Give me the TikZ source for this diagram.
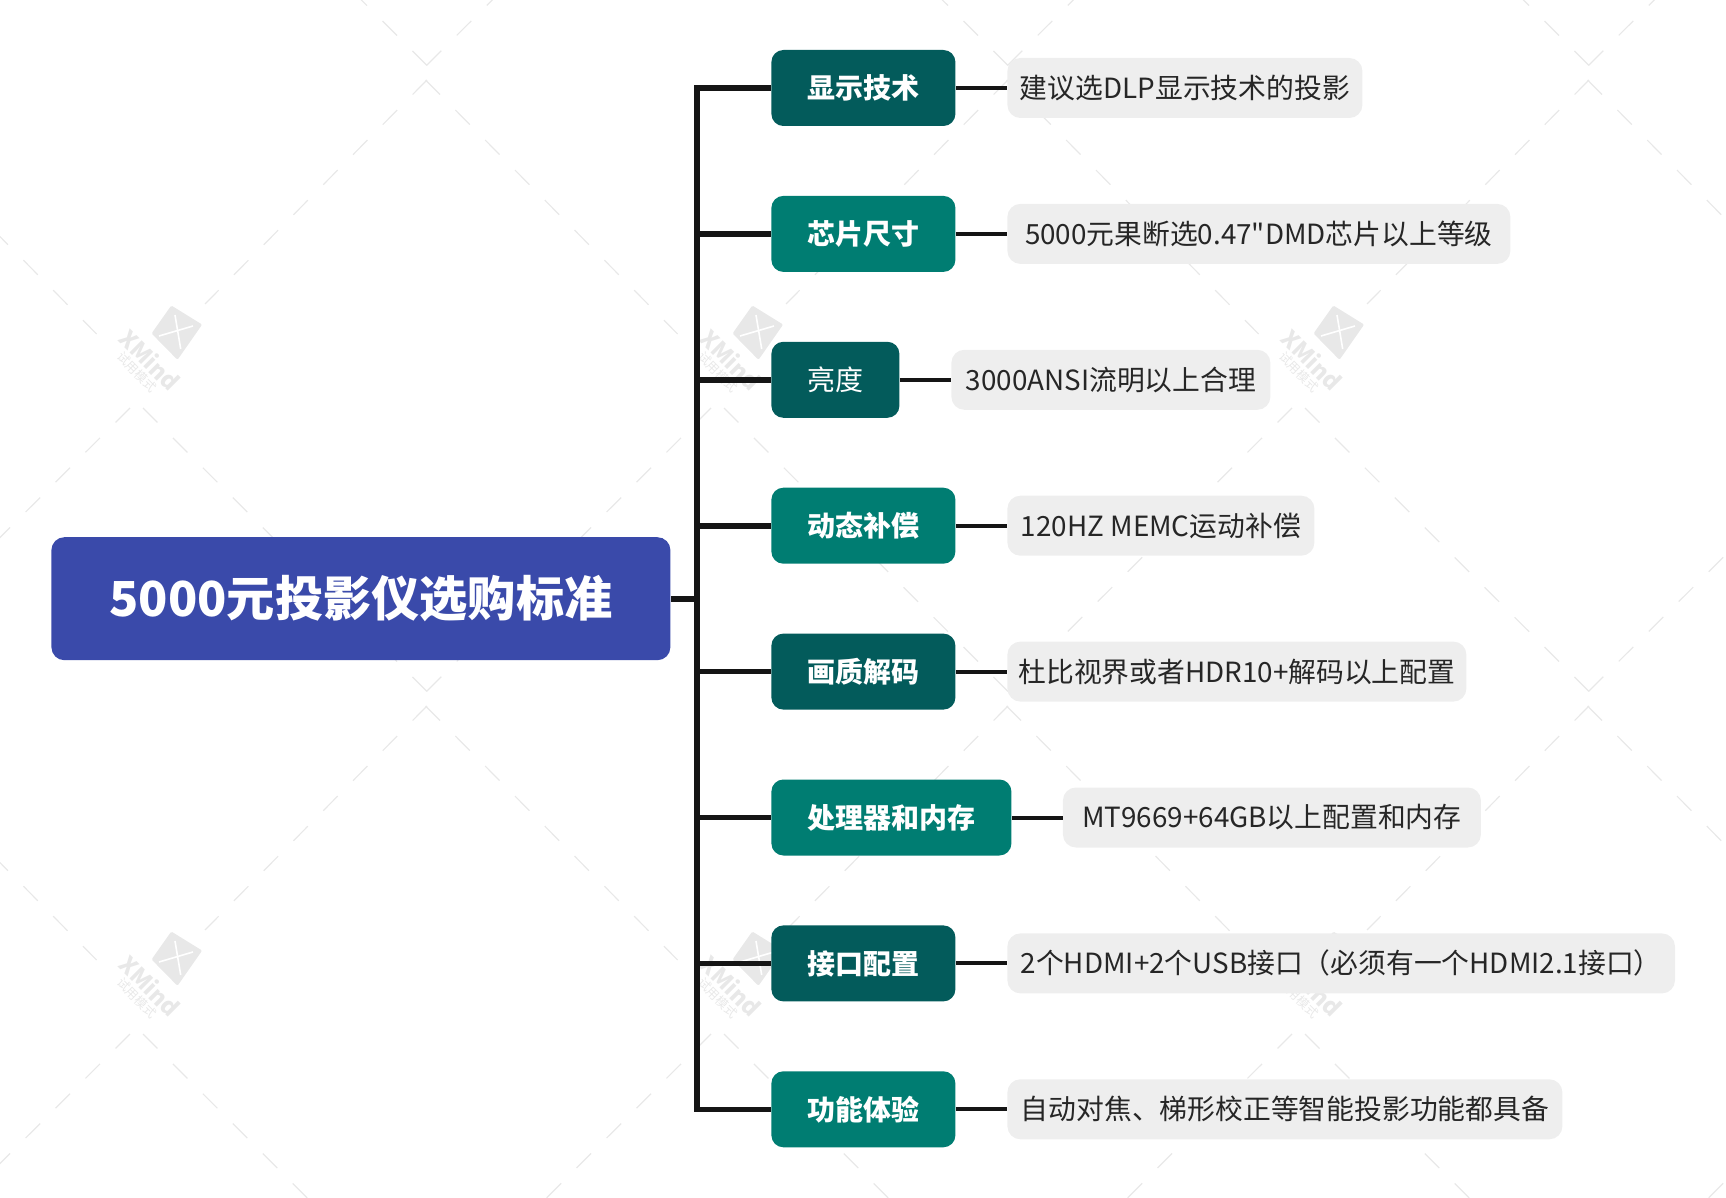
\documentclass[tikz,border=0pt]{standalone}
\usepackage{fontspec}
\setmainfont{Noto Sans CJK SC}
\newfontfamily\leaffont{Noto Sans CJK SC}
\usetikzlibrary{calc}

\definecolor{rootblue}{HTML}{3A4AAA}
\definecolor{tealdark}{HTML}{035B5B}
\definecolor{teallight}{HTML}{007D72}
\definecolor{leafgray}{HTML}{EEEEEE}
\definecolor{linedark}{HTML}{151515}
\definecolor{wmgray}{HTML}{E8E8E8}

\tikzset{
  rootbox/.style={fill=rootblue, text=white, rounded corners=6.5pt, inner sep=0pt, anchor=west, minimum height=61.5pt, font=\fontsize{24.1}{28}\selectfont\bfseries},
  topicbox/.style={text=white, rounded corners=6pt, inner sep=0pt, anchor=west, minimum height=38pt, font=\fontsize{14}{17}\selectfont\bfseries},
  leafbox/.style={fill=leafgray, text=black!85, rounded corners=6.5pt, inner sep=0pt, anchor=west, minimum height=30pt, font=\leaffont\fontsize{13.9}{16}\selectfont},
  trunk/.style={draw=linedark, line width=2.8pt},
  twig/.style={draw=linedark, line width=2pt},
  wmline/.style={draw=wmgray, line width=0.6pt, dash pattern=on 10.25pt off 10.9pt},
}

% dashed lines of the background mark
\newcommand{\wmtile}[2]{
\begin{scope}[shift={(#1,#2)}]
\draw[wmline] (427,80) -- (205,304);
\draw[wmline] (425.6,80) -- (677.6,334);
\draw[wmline] (711,408) -- (426,692);
\draw[wmline] (143,408) -- (427.5,692);
\end{scope}
}

% logo of the background mark
\newcommand{\wmlogo}[3]{
\begin{scope}[shift={(#1,#2)}]
\fill[wmgray, draw=wmgray, line width=1.5pt, line join=round] (171.7,307.5) -- (200,325) -- (177.3,357.5) -- (153.5,333.3) -- cycle;
\draw[white, line width=0.8pt] (175,315) -- (180.7,349);
\draw[white, line width=0.8pt] (159,336) -- (193,326);
\node[rotate=-45, text=wmgray, inner sep=0pt, font=\fontsize{11.6}{14}\selectfont\bfseries] (wa#3) at (150,360) {XMind};
\node[rotate=-45, text=wmgray, inner sep=0pt, font=\fontsize{6.2}{7}\selectfont] (wb#3) at (137,372) {试用模式};
\end{scope}
}

\begin{document}
\begin{tikzpicture}[x=0.5pt, y=-0.5pt]

\useasboundingbox (0,0) rectangle (1726,1198);

\wmtile{-581}{-626}
\wmtile{0}{-626}
\wmtile{581}{-626}
\wmtile{1162}{-626}
\wmtile{-581}{0}
\wmtile{0}{0}
\wmtile{581}{0}
\wmtile{1162}{0}
\wmtile{-581}{626}
\wmtile{0}{626}
\wmtile{581}{626}
\wmtile{1162}{626}

\wmlogo{0}{0}{1}
\wmlogo{581}{0}{2}
\wmlogo{1162}{0}{3}
\wmlogo{0}{626}{4}
\wmlogo{581}{626}{5}
\wmlogo{1162}{626}{6}

\node [rootbox, minimum width=309.5pt] (r) at (51,598.7) {5000元投影仪选购标准};

\node [topicbox, fill=tealdark, minimum width=92pt] (c1) at (771,88) {显示技术};
\node [topicbox, fill=teallight, minimum width=92pt] (c2) at (771,233.9) {芯片尺寸};
\node [topicbox, fill=tealdark, minimum width=64pt, font=\fontsize{14}{17}\selectfont] (c3) at (771,379.8) {亮度};
\node [topicbox, fill=teallight, minimum width=92pt] (c4) at (771,525.7) {动态补偿};
\node [topicbox, fill=tealdark, minimum width=92pt] (c5) at (771,671.6) {画质解码};
\node [topicbox, fill=teallight, minimum width=120pt] (c6) at (771,817.5) {处理器和内存};
\node [topicbox, fill=tealdark, minimum width=92pt] (c7) at (771,963.4) {接口配置};
\node [topicbox, fill=teallight, minimum width=92pt] (c8) at (771,1109.3) {功能体验};

\node [leafbox, minimum width=177.5pt] (l1) at (1007,88) {建议选DLP显示技术的投影};
\node [leafbox, minimum width=251.5pt] (l2) at (1007,233.9) {5000元果断选0.47"DMD芯片以上等级};
\node [leafbox, minimum width=159.5pt] (l3) at (951,379.8) {3000ANSI流明以上合理};
\node [leafbox, minimum width=153.5pt] (l4) at (1007,525.7) {120HZ MEMC运动补偿};
\node [leafbox, minimum width=229.5pt] (l5) at (1007,671.6) {杜比视界或者HDR10+解码以上配置};
\node [leafbox, minimum width=209pt] (l6) at (1062.5,817.5) {MT9669+64GB以上配置和内存};
\node [leafbox, minimum width=333.8pt] (l7) at (1007,963.4) {2个HDMI+2个USB接口（必须有一个HDMI2.1接口）};
\node [leafbox, minimum width=277.5pt] (l8) at (1007,1109.3) {自动对焦、梯形校正等智能投影功能都具备};

\coordinate (j0) at (697,598.7);
\coordinate (j1) at (697,88);
\coordinate (j2) at (697,233.9);
\coordinate (j3) at (697,379.8);
\coordinate (j4) at (697,525.7);
\coordinate (j5) at (697,671.6);
\coordinate (j6) at (697,817.5);
\coordinate (j7) at (697,963.4);
\coordinate (j8) at (697,1109.3);

\draw [trunk] (r.east) -- (j0);
\draw [trunk] (c1.west) -- (j1) -- (j8) -- (c8.west);
\draw [trunk] (j2) -- (c2.west);
\draw [trunk] (j3) -- (c3.west);
\draw [trunk] (j4) -- (c4.west);
\draw [trunk] (j5) -- (c5.west);
\draw [trunk] (j6) -- (c6.west);
\draw [trunk] (j7) -- (c7.west);

\draw [twig] (c1) -- (l1);
\draw [twig] (c2) -- (l2);
\draw [twig] (c3) -- (l3);
\draw [twig] (c4) -- (l4);
\draw [twig] (c5) -- (l5);
\draw [twig] (c6) -- (l6);
\draw [twig] (c7) -- (l7);
\draw [twig] (c8) -- (l8);

\end{tikzpicture}
\end{document}
